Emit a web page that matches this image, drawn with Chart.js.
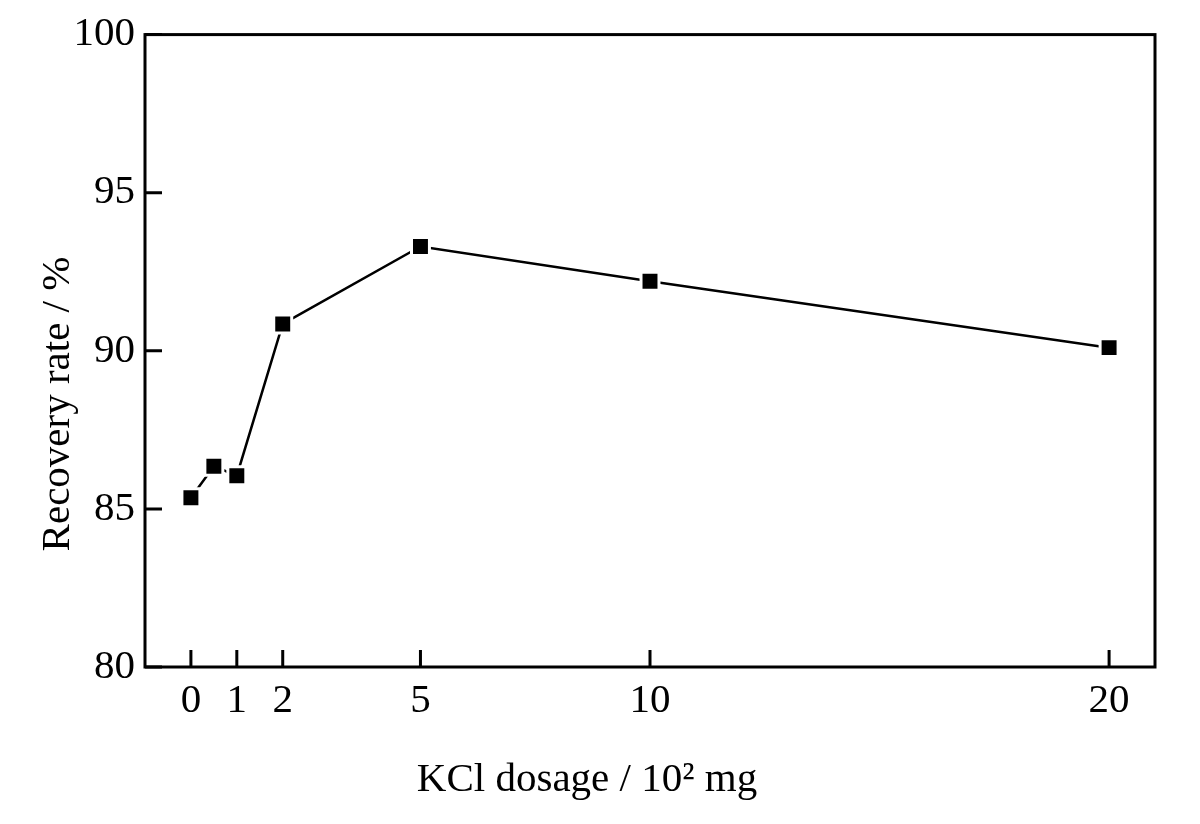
<!DOCTYPE html>
<html>
<head>
<meta charset="utf-8">
<script src="https://cdn.jsdelivr.net/npm/chart.js@4.4.1/dist/chart.umd.min.js"></script>
<style>
  html, body { margin: 0; padding: 0; background: #fff; }
  canvas { display: block; }
</style>
</head>
<body>
<canvas id="chart" width="1200" height="824"></canvas>
<script>
// data
const dosage = [0, 0.5, 1, 2, 5, 10, 20];
const recovery = [85.35, 86.35, 86.05, 90.85, 93.3, 92.2, 90.1];
const xTicks = [0, 1, 2, 5, 10, 20];
const yTicks = [80, 85, 90, 95, 100];
const xTitle = 'KCl dosage / 10\u00B2 mg';
const yTitle = 'Recovery rate / %';

const FONT = '"Liberation Serif", "Times New Roman", serif';

// box round the plot and ticks pointing inwards
const framePlugin = {
  id: 'frame',
  beforeDatasetsDraw(chart) {
    const { ctx, chartArea: a, scales } = chart;
    ctx.save();
    ctx.strokeStyle = '#000';
    ctx.lineWidth = 3;
    ctx.strokeRect(a.left, a.top, a.right - a.left, a.bottom - a.top);
    ctx.beginPath();
    for (const v of yTicks) {
      const y = scales.y.getPixelForValue(v);
      ctx.moveTo(a.left, y);
      ctx.lineTo(a.left + 17, y);
    }
    for (const v of xTicks) {
      const x = scales.x.getPixelForValue(v);
      ctx.moveTo(x, a.bottom);
      ctx.lineTo(x, a.bottom - 17);
    }
    ctx.stroke();
    ctx.restore();
  },
  afterDraw(chart) {
    const { ctx } = chart;
    ctx.save();
    ctx.fillStyle = '#000';
    ctx.font = '41px ' + FONT;
    ctx.textAlign = 'center';
    ctx.textBaseline = 'alphabetic';
    ctx.fillText(xTitle, 587, 791);
    ctx.translate(69, 404);
    ctx.rotate(-Math.PI / 2);
    ctx.fillText(yTitle, 0, 0);
    ctx.restore();
  }
};

new Chart(document.getElementById('chart'), {
  type: 'scatter',
  data: {
    datasets: [{
      data: dosage.map((d, i) => ({ x: d, y: recovery[i] })),
      showLine: true,
      borderColor: '#000',
      borderWidth: 2.5,
      pointStyle: 'rect',
      pointRadius: 12.7,
      pointHoverRadius: 12.7,
      pointBackgroundColor: '#000',
      pointBorderColor: '#fff',
      pointBorderWidth: 3
    }]
  },
  options: {
    responsive: false,
    animation: false,
    devicePixelRatio: 1,
    layout: { padding: { top: 33, right: 45, left: 0, bottom: 0 } },
    plugins: {
      legend: { display: false },
      tooltip: { enabled: false }
    },
    scales: {
      x: {
        type: 'linear',
        min: -1,
        max: 21,
        afterBuildTicks: s => { s.ticks = xTicks.map(v => ({ value: v })); },
        afterFit: s => { s.height = 157; },
        grid: { display: false, drawTicks: false },
        border: { display: false },
        ticks: {
          color: '#000',
          padding: 10,
          font: { family: FONT, size: 41 },
          maxRotation: 0,
          autoSkip: false
        }
      },
      y: {
        min: 80,
        max: 100,
        afterBuildTicks: s => { s.ticks = yTicks.map(v => ({ value: v })); },
        afterFit: s => { s.width = 145; },
        grid: { display: false, drawTicks: false },
        border: { display: false },
        ticks: {
          color: '#000',
          padding: 10,
          font: { family: FONT, size: 41 }
        }
      }
    }
  },
  plugins: [framePlugin]
});
</script>
</body>
</html>
